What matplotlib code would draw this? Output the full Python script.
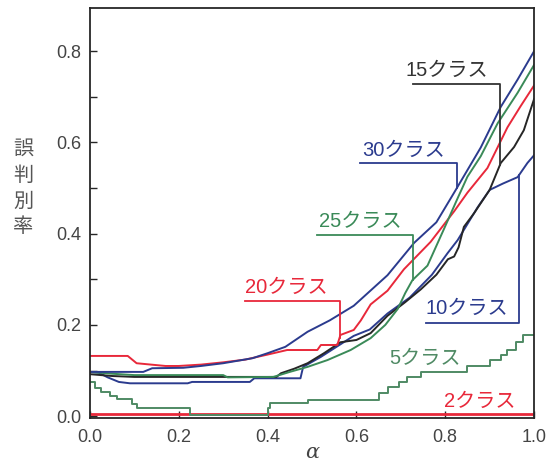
#!/usr/bin/env python3
"""Misclassification rate vs alpha for different numbers of classes."""
import numpy as np
import matplotlib
matplotlib.use("Agg")
import matplotlib.pyplot as plt
from matplotlib.ticker import MultipleLocator

plt.rcParams["font.family"] = ["Liberation Sans", "Noto Sans CJK JP", "DejaVu Sans"]

# error rate curves, one (alpha, rate) pair of lists per class count
x_30 = [0, 0.12, 0.14, 0.21, 0.25, 0.30, 0.366, 0.40, 0.44, 0.49, 0.54, 0.594,
        0.67, 0.73, 0.78, 0.82, 0.88, 0.925, 0.963, 1.0]
err_30 = [0.097, 0.097, 0.105, 0.106, 0.11, 0.116, 0.127, 0.138, 0.152, 0.185,
          0.21, 0.242, 0.309, 0.38, 0.425, 0.49, 0.589, 0.678, 0.738, 0.80]

x_25 = [0, 0.05, 0.10, 0.30, 0.31, 0.413, 0.45, 0.49, 0.535, 0.587, 0.632, 0.665,
        0.693, 0.71, 0.726, 0.76, 0.797, 0.828, 0.85, 0.88, 0.918, 0.963, 1.0]
err_25 = [0.097, 0.093, 0.09, 0.09, 0.085, 0.086, 0.097, 0.108, 0.123, 0.145,
          0.171, 0.2, 0.235, 0.27, 0.298, 0.33, 0.41, 0.478, 0.525, 0.57, 0.642,
          0.709, 0.77]

x_20 = [0, 0.085, 0.105, 0.17, 0.2, 0.25, 0.30, 0.35, 0.40, 0.444, 0.512, 0.52,
        0.557, 0.564, 0.594, 0.61, 0.632, 0.67, 0.707, 0.767, 0.82, 0.85, 0.895,
        0.94, 0.97, 1.0]
err_20 = [0.132, 0.132, 0.116, 0.11, 0.11, 0.113, 0.118, 0.124, 0.135, 0.145,
          0.145, 0.156, 0.156, 0.178, 0.189, 0.21, 0.245, 0.275, 0.322, 0.382,
          0.449, 0.49, 0.544, 0.633, 0.68, 0.725]

x_15 = [0, 0.05, 0.10, 0.42, 0.43, 0.46, 0.49, 0.527, 0.564, 0.60, 0.632, 0.67,
        0.71, 0.745, 0.78, 0.806, 0.82, 0.83, 0.842, 0.865, 0.88, 0.90, 0.925,
        0.955, 0.977, 1.0]
err_15 = [0.092, 0.088, 0.086, 0.086, 0.094, 0.104, 0.116, 0.138, 0.162, 0.167,
          0.182, 0.22, 0.25, 0.278, 0.31, 0.344, 0.35, 0.37, 0.415, 0.445, 0.467,
          0.496, 0.555, 0.59, 0.627, 0.695]

x_10 = [0, 0.02, 0.04, 0.065, 0.09, 0.22, 0.23, 0.36, 0.37, 0.474, 0.48, 0.52,
        0.56, 0.594, 0.63, 0.67, 0.72, 0.77, 0.805, 0.828, 0.873, 0.90, 0.93,
        0.963, 0.985, 1.0]
err_10 = [0.097, 0.095, 0.085, 0.075, 0.072, 0.072, 0.075, 0.075, 0.083, 0.083,
          0.108, 0.13, 0.155, 0.176, 0.19, 0.225, 0.26, 0.31, 0.357, 0.386,
          0.458, 0.496, 0.51, 0.524, 0.555, 0.572]

# 5 classes moves in discrete steps
x_5 = [0, 0.012, 0.025, 0.045, 0.06, 0.095, 0.105, 0.225, 0.40, 0.405, 0.49,
       0.65, 0.67, 0.695, 0.715, 0.745, 0.85, 0.90, 0.925, 0.94, 0.96, 0.975, 1.0]
err_5 = [0.075, 0.062, 0.053, 0.045, 0.037, 0.027, 0.018, 0.002, 0.018, 0.028,
         0.035, 0.05, 0.064, 0.075, 0.086, 0.097, 0.11, 0.123, 0.133, 0.145,
         0.163, 0.178, 0.178]

x_2 = [0, 0.25, 0.5, 0.75, 1.0]
err_2 = [0.004, 0.004, 0.004, 0.004, 0.004]

NAVY = "#2b3b8e"
GREEN = "#3a8a58"
GREEN5 = "#4f8a64"
RED = "#e8283a"
BLACK = "#262626"

fig = plt.figure(figsize=(5.5, 4.67), dpi=100)
ax = fig.add_axes([0.1636, 0.105, 0.8074, 0.878])

lw = 1.4
ax.plot(x_2, err_2, color=RED, lw=2.0)
ax.plot(x_5, err_5, color=GREEN5, lw=lw, drawstyle="steps-post")
ax.plot(x_10, err_10, color=NAVY, lw=lw)
ax.plot(x_15, err_15, color=BLACK, lw=lw)
ax.plot(x_20, err_20, color=RED, lw=lw)
ax.plot(x_25, err_25, color=GREEN, lw=lw)
ax.plot(x_30, err_30, color=NAVY, lw=lw)

fs = 14.5
# labels with elbow leader lines down (or up) to their curve
callouts = [
    ("15クラス", "#333333", 0.711, 0.759, 0.727, 0.923, 0.728, x_15, err_15),
    ("30クラス", NAVY, 0.614, 0.583, 0.609, 0.826, 0.555, x_30, err_30),
    ("25クラス", GREEN, 0.515, 0.428, 0.512, 0.727, 0.397, x_25, err_25),
    ("20クラス", RED, 0.350, 0.283, 0.350, 0.562, 0.252, x_20, err_20),
    ("10クラス", NAVY, 0.756, 0.237, 0.756, 0.966, 0.204, x_10, err_10),
]
for text, col, tx, ty, hx0, hx1, hy, xs, ys in callouts:
    ax.text(tx, ty, text, color=col, fontsize=fs, ha="left", va="center")
    yend = np.interp(hx1, xs, ys)
    ax.plot([hx0, hx1, hx1], [hy, hy, yend], color=col, lw=1.3)

ax.text(0.673, 0.127, "5クラス", color=GREEN5, fontsize=fs, ha="left", va="center")
ax.text(0.797, 0.033, "2クラス", color=RED, fontsize=fs, ha="left", va="center")

ax.set_xlim(0, 1.0)
ax.set_ylim(-0.004, 0.895)
ax.set_xticks([0.0, 0.2, 0.4, 0.6, 0.8, 1.0])
ax.set_xticklabels(["0.0", "0.2", "0.4", "0.6", "0.8", "1.0"])
ax.set_yticks([0.0, 0.2, 0.4, 0.6, 0.8])
ax.set_yticklabels(["0.0", "0.2", "0.4", "0.6", "0.8"])
ax.yaxis.set_minor_locator(MultipleLocator(0.1))
ax.tick_params(axis="both", which="both", direction="in", length=5,
               width=1.0, color=BLACK, labelsize=13, labelcolor="#444444")
ax.tick_params(axis="x", pad=8)
ax.tick_params(axis="y", pad=6)
for s in ax.spines.values():
    s.set_linewidth(1.3)
    s.set_color(BLACK)

ax.set_xlabel("α", fontsize=15, family="DejaVu Serif", style="italic",
              color="#444444", labelpad=-2)
fig.text(0.042, 0.597, "誤\n判\n別\n率", fontsize=14.5, color="#555555",
         ha="center", va="center", linespacing=1.3,
         family=["Noto Sans CJK JP"])

fig.savefig("out.png", dpi=100)
